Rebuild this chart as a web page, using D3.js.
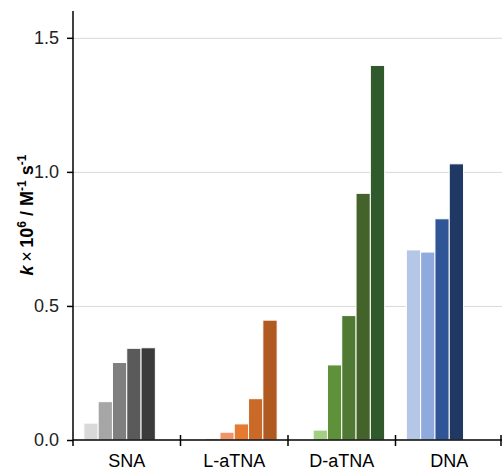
<!DOCTYPE html>
<html>
<head>
<meta charset="utf-8">
<script src="https://cdn.jsdelivr.net/npm/d3@7"></script>
<style>
  body { margin: 0; background: #fff; }
  text { font-family: "Liberation Sans", Arial, sans-serif; }
</style>
</head>
<body>
<div id="chart"></div>
<script>
// data (6 slots per group, null = no bar)
var categories = ["SNA", "L-aTNA", "D-aTNA", "DNA"];
var snaValues   = [0.063, 0.143, 0.289, 0.342, 0.344, null];
var laTnaValues = [null, 0.005, 0.029, 0.060, 0.154, 0.447];
var daTnaValues = [null, 0.037, 0.280, 0.464, 0.920, 1.397];
var dnaValues   = [0.709, 0.701, 0.825, 1.030, null, null];
var yTicks = [0, 0.5, 1.0, 1.5];

var snaColors   = ["#d9d9d9", "#a6a6a6", "#7f7f7f", "#5a5a5a", "#3b3b3b", null];
var laTnaColors = [null, "#c8784e", "#f0956a", "#e57a30", "#c96a28", "#b05a22"];
var daTnaColors = [null, "#a3cf84", "#5f913a", "#507a33", "#43632b", "#305a2b"];
var dnaColors   = ["#b4c7e7", "#8faadc", "#2f5597", "#203864", null, null];

var groups = [
  { name: categories[0], values: snaValues, colors: snaColors },
  { name: categories[1], values: laTnaValues, colors: laTnaColors },
  { name: categories[2], values: daTnaValues, colors: daTnaColors },
  { name: categories[3], values: dnaValues, colors: dnaColors }
];

var width = 502, height = 471;
var margin = { left: 73, right: -1, top: 11, bottom: 31 };

var svg = d3.select("#chart")
  .append("svg")
  .attr("width", width)
  .attr("height", height);

var x = d3.scaleBand()
  .domain(categories)
  .range([margin.left, width - margin.right])
  .padding(0);

var slot = d3.scaleBand()
  .domain(d3.range(6))
  .range([0, x.bandwidth()])
  .paddingInner(0)
  .paddingOuter(0.76);

var y = d3.scaleLinear()
  .domain([0, 1.6])
  .range([height - margin.bottom, margin.top]);

// gridlines
svg.append("g")
  .selectAll("line")
  .data(yTicks.filter(function(d) { return d > 0; }))
  .join("line")
  .attr("x1", margin.left)
  .attr("x2", width)
  .attr("y1", function(d) { return y(d) + 0.5; })
  .attr("y2", function(d) { return y(d) + 0.5; })
  .attr("stroke", "#d9d9d9")
  .attr("stroke-width", 1);

// bars
var g = svg.append("g")
  .selectAll("g")
  .data(groups)
  .join("g")
  .attr("transform", function(d) { return "translate(" + x(d.name) + ",0)"; });

g.selectAll("rect")
  .data(function(d) {
    return d.values.map(function(v, i) { return { i: i, v: v, c: d.colors[i] }; })
      .filter(function(e) { return e.v != null; });
  })
  .join("rect")
  .attr("x", function(d) { return slot(d.i); })
  .attr("width", slot.bandwidth())
  .attr("y", function(d) { return y(d.v); })
  .attr("height", function(d) { return y(0) - y(d.v); })
  .attr("fill", function(d) { return d.c; })
  .attr("stroke", "#fff")
  .attr("stroke-width", 1);

// x axis
var xAxis = svg.append("g")
  .attr("transform", "translate(0," + y(0) + ")");
xAxis.append("line")
  .attr("x1", margin.left).attr("x2", width)
  .attr("stroke", "#000").attr("stroke-width", 1.5);
xAxis.selectAll(".tk")
  .data(categories.slice(1).concat(["end"]))
  .join("line")
  .attr("class", "tk")
  .attr("x1", function(d, i) { return d === "end" ? width - 1 : x(d); })
  .attr("x2", function(d, i) { return d === "end" ? width - 1 : x(d); })
  .attr("y1", -5).attr("y2", 6)
  .attr("stroke", "#000").attr("stroke-width", 1.5);
xAxis.selectAll("text")
  .data(categories)
  .join("text")
  .attr("x", function(d) { return x(d) + x.bandwidth() / 2; })
  .attr("y", 27)
  .attr("text-anchor", "middle")
  .attr("font-size", 18)
  .attr("fill", "#000")
  .text(function(d) { return d; });

// y axis
var yAxis = svg.append("g")
  .attr("transform", "translate(" + margin.left + ",0)")
  .call(d3.axisLeft(y).tickValues(yTicks).tickFormat(d3.format(".1f")).tickSize(6).tickPadding(8));
yAxis.select(".domain")
  .attr("d", "M0," + margin.top + "V" + (y(0) + 6))
  .attr("stroke-width", 1.5);
yAxis.selectAll(".tick line").attr("stroke-width", 1.5);
yAxis.selectAll(".tick text")
  .attr("font-size", 18)
  .attr("fill", "#222");

// y axis title
var title = svg.append("text")
  .attr("transform", "translate(33,215) rotate(-90)")
  .attr("text-anchor", "middle")
  .attr("font-size", 18)
  .attr("font-weight", "bold")
  .attr("fill", "#000");
title.append("tspan").attr("font-style", "italic").text("k");
title.append("tspan").attr("font-weight", "normal").text("\u2009\u00d7\u2009");
title.append("tspan").text("10");
title.append("tspan").attr("font-size", 12).attr("dy", -7).text("6");
title.append("tspan").attr("dy", 7).text(" / M");
title.append("tspan").attr("font-size", 12).attr("dy", -7).text("-1");
title.append("tspan").attr("dy", 7).text(" s");
title.append("tspan").attr("font-size", 12).attr("dy", -7).text("-1");
</script>
</body>
</html>
